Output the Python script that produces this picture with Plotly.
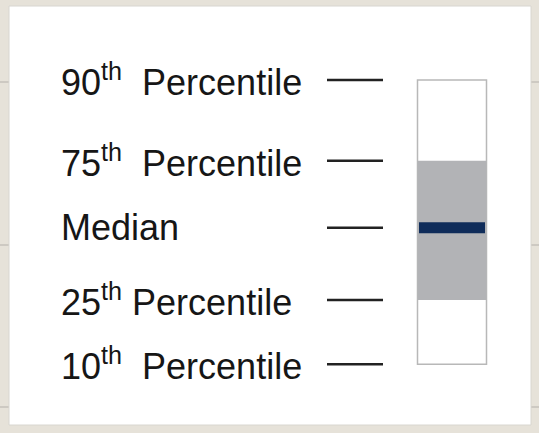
import plotly.graph_objects as go

# Schematic key values (value scale 0-100, bottom to top)
labels = ["90<sup>th</sup>  Percentile", "75<sup>th</sup>  Percentile", "Median",
          "25<sup>th</sup> Percentile", "10<sup>th</sup>  Percentile"]
p90, p75, median, p25, p10 = 81.5, 62.9, 47.4, 30.7, 15.9
levels = [p90, p75, median, p25, p10]

FONT = "Liberation Sans, Arial, sans-serif"
BG = "#e6e2d9"

fig = go.Figure()

# Whisker box (10th-90th): white with grey outline
fig.add_trace(go.Bar(x=[452], y=[p90 - p10], base=[p10], width=[69],
                     marker=dict(color="white", line=dict(color="#b8b8b8", width=1.5)),
                     hoverinfo="skip", showlegend=False))
# Interquartile box (25th-75th)
fig.add_trace(go.Bar(x=[452], y=[p75 - p25], base=[p25], width=[69],
                     marker=dict(color="#b2b3b6", line=dict(width=0)),
                     hoverinfo="skip", showlegend=False))
# Median line
fig.add_trace(go.Scatter(x=[419, 485], y=[median, median], mode="lines",
                         line=dict(color="#0f2c5a", width=11),
                         hoverinfo="skip", showlegend=False))
# Leader dashes
dx, dy = [], []
for v in levels:
    dx += [327, 383, None]
    dy += [v, v, None]
fig.add_trace(go.Scatter(x=dx, y=dy, mode="lines",
                         line=dict(color="#222222", width=2.5),
                         hoverinfo="skip", showlegend=False))

for lab, v in zip(labels, levels):
    fig.add_annotation(x=59, y=v, xref="x", yref="y", text=lab, showarrow=False,
                       xanchor="left", yanchor="middle",
                       font=dict(family=FONT, size=36, color="#161616"))

# background faint grid lines peeking at edges, white panel on top
for gy in [82, 245, 407]:
    fig.add_shape(type="line", xref="paper", yref="paper", x0=0, x1=1,
                  y0=1 - gy / 433, y1=1 - gy / 433,
                  line=dict(color="#c4c1ba", width=1.5), layer="below")
fig.add_shape(type="rect", xref="paper", yref="paper",
              x0=9 / 539, x1=531 / 539, y0=1 - 425 / 433, y1=1 - 6 / 433,
              fillcolor="white", line=dict(color="#d8d6d0", width=1), layer="below")

fig.update_layout(
    width=539, height=433, margin=dict(l=0, r=0, t=0, b=0),
    paper_bgcolor=BG, plot_bgcolor="rgba(0,0,0,0)",
    barmode="overlay",
    xaxis=dict(range=[0, 539], visible=False, fixedrange=True),
    yaxis=dict(range=[0, 100], visible=False, fixedrange=True),
)

fig.write_html("out.html", config={"displayModeBar": False},
               post_script="document.body.style.margin='0';document.body.style.padding='0';document.body.style.overflow='hidden';")
